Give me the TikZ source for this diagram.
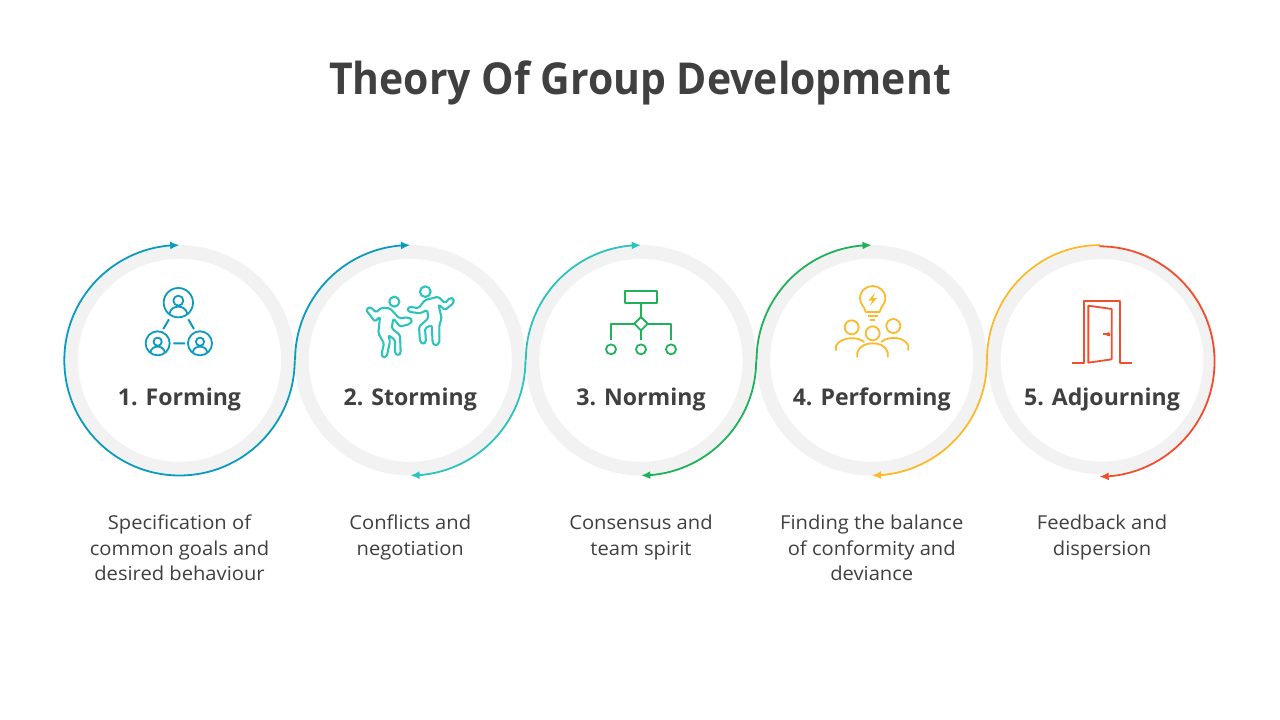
\documentclass[tikz,border=0pt]{standalone}
\usepackage{fontspec}
\setmainfont{Open Sans}
\newfontfamily\titlefont[FakeStretch=0.93,BoldFont={Open Sans Bold}]{Open Sans}
\newfontfamily\descfont[FakeStretch=1.05]{Open Sans}
\usetikzlibrary{arrows.meta,bending}
\definecolor{cblue}{HTML}{0A9BBF}
\definecolor{cteal}{HTML}{2CC3BD}
\definecolor{cgreen}{HTML}{1FB25A}
\definecolor{cyellow}{HTML}{FBBA2C}
\definecolor{cred}{HTML}{F04E2D}
\definecolor{cring}{HTML}{F2F2F2}
\definecolor{ctext}{HTML}{404040}
\tikzset{
  ring/.style={circle,draw=cring,line width=10.2pt,minimum size=162.6pt,inner sep=0pt},
  lastring/.style={circle,draw=cring,line width=9.5pt,minimum size=161.5pt,inner sep=0pt},
  flow/.style={line width=1.35pt},
  tip/.style={-{Latex[length=7pt,width=6pt,flex]}},
  titletext/.style={font=\titlefont\fontsize{33}{38}\selectfont\bfseries,text=ctext,anchor=base},
  headtext/.style={font=\fontsize{17.3}{20}\selectfont\bfseries,text=ctext,anchor=base},
  desctext/.style={font=\descfont\fontsize{14.4}{19.1}\selectfont,text=ctext,align=center,anchor=north},
  icon/.style={line width=1.35pt,line cap=butt,line join=round},
  zoomgrid/.style={x=.25pt,y=-.25pt}
}
\newcommand{\personicon}[4]{%
  \begin{scope}[shift={(#1,#2)},scale=#3]
    \draw[icon,#4] (0,0) circle[radius=44];
    \draw[icon,#4] (0,-6) circle[radius=15];
    \draw[icon,#4] (-27,34) .. controls (-24,17) and (-10,12) .. (0,12) .. controls (10,12) and (24,17) .. (27,34);
  \end{scope}}
\begin{document}
\begin{tikzpicture}[x=.75pt,y=-.75pt]
\useasboundingbox (0,0) rectangle (1280,720);
\fill[white] (0,0) rectangle (1280,720);
\node[titletext] (title) at (640,94.5) {Theory Of Group Development};
\node[ring] (c1) at (179.5,360.3) {};
\node[ring] (c2) at (410.25,360.3) {};
\node[ring] (c3) at (641,360.3) {};
\node[ring] (c4) at (871.75,360.3) {};
\node[lastring] (c5) at (1102,360.3) {};
\coordinate (c5top) at ([xshift=-2pt]c5.north);
% flow arcs
\draw[flow,cblue,tip] (c1.east) arc[start angle=0,end angle=270,radius=115.2];
\draw[flow,cblue,tip] (c2.west) arc[start angle=180,end angle=270,radius=115.2];
\draw[flow,cteal,tip] (c2.east) arc[start angle=0,end angle=90,radius=115.2];
\draw[flow,cteal,tip] (c3.west) arc[start angle=180,end angle=270,radius=115.2];
\draw[flow,cgreen,tip] (c3.east) arc[start angle=0,end angle=90,radius=115.2];
\draw[flow,cgreen,tip] (c4.west) arc[start angle=180,end angle=270,radius=115.2];
\draw[flow,cyellow,tip] (c4.east) arc[start angle=0,end angle=90,radius=115.2];
\draw[flow,cyellow] (c4.east) arc[start angle=180,end angle=270,x radius=112.8,y radius=115.2];
\draw[flow,cred,tip] (c5top) arc[start angle=-90,end angle=90,radius=115.2];
% headings
\node[headtext] (h1) at (c1|-0,405) {1. Forming};
\node[headtext] (h2) at (c2|-0,405) {2. Storming};
\node[headtext] (h3) at (c3|-0,405) {3. Norming};
\node[headtext] (h4) at (c4|-0,405) {4. Performing};
\node[headtext] (h5) at (c5|-0,405) {5. Adjourning};
% descriptions
\node[desctext] (d1) at (c1|-0,510.5) {Specification of\\common goals and\\desired behaviour};
\node[desctext] (d2) at (c2|-0,510.5) {Conflicts and\\negotiation};
\node[desctext] (d3) at (c3|-0,510.5) {Consensus and\\team spirit};
\node[desctext] (d4) at (c4|-0,510.5) {Finding the balance\\of conformity and\\deviance};
\node[desctext] (d5) at (c5|-0,510.5) {Feedback and\\dispersion};
% icon 1
\begin{scope}[shift={(130,280)},zoomgrid]
  \personicon{145}{68}{1}{cblue}
  \personicon{83}{190}{.82}{cblue}
  \personicon{210}{190}{.82}{cblue}
  \draw[icon,cblue,line width=1.5pt] (117,118)--(100,147) (175,118)--(192,147) (130,190)--(165,190);
\end{scope}
% icon 2
\begin{scope}[shift={(350,275)},zoomgrid,every path/.append style={line width=1.55pt}]
  \draw[icon,cteal,line width=1.55pt] (133,80) circle[radius=15];
  \draw[icon,cteal,line width=1.55pt,rounded corners=1.2pt] (48,105)--(60,95)--(78,112)--(95,98)--(120,100)--(148,130)--(175,127)--(187,135)--(180,147)--(150,155)--(130,130)--(125,160)--(150,180)--(152,235)--(145,242)--(135,235)--(135,195)--(115,180)--(120,200)--(110,245)--(98,248)--(95,235)--(102,205)--(85,175)--(90,125)--(75,140)--cycle;
  \draw[icon,cteal,line width=1.55pt] (226,50) circle[radius=16];
  \draw[icon,cteal,line width=1.55pt,rounded corners=1.2pt] (172,100)--(180,95)--(205,100)--(225,75)--(265,65)--(285,85)--(300,68)--(312,72)--(310,85)--(285,105)--(265,88)--(275,130)--(268,150)--(268,205)--(255,212)--(248,205)--(245,150)--(225,160)--(228,200)--(220,208)--(210,200)--(207,155)--(235,130)--(232,105)--(210,115)--(175,110)--cycle;
\end{scope}
% icon 3
\begin{scope}[shift={(590,280)},zoomgrid]
  \draw[icon,cgreen] (104,32) rectangle (202,70);
  \draw[icon,cgreen] (153,70)--(153,111);
  \draw[icon,cgreen] (153,111)--(173,131)--(153,151)--(133,131)--cycle;
  \draw[icon,cgreen] (133,131)--(63,131)--(63,180) (173,131)--(243,131)--(243,180) (153,151)--(153,180);
  \draw[icon,cgreen] (63,208) circle[radius=15] (153,208) circle[radius=15] (243,208) circle[radius=15];
\end{scope}
% icon 4
\begin{scope}[shift={(825,280)},zoomgrid]
  \draw[icon,cyellow] (122,96) .. controls (118,78) and (105,72) .. (105,55) .. controls (105,32) and (124,18) .. (143,18) .. controls (162,18) and (181,32) .. (181,55) .. controls (181,72) and (168,78) .. (164,96) -- cycle;
  \draw[icon,cyellow] (128,108)--(158,108) (135,120)--(150,120);
  \fill[cyellow] (150,38)--(130,62)--(142,62)--(135,78)--(156,54)--(144,54)--cycle;
  \draw[icon,cyellow] (80,142) circle[radius=21] (205,138) circle[radius=21] (143,160) circle[radius=21];
  \draw[icon,cyellow] (33,212)--(33,197) .. controls (45,175) and (90,165) .. (118,186);
  \draw[icon,cyellow] (168,186) .. controls (195,165) and (240,172) .. (250,197) -- (250,212);
  \draw[icon,cyellow] (97,232)--(97,218) .. controls (105,195) and (125,190) .. (143,190) .. controls (161,190) and (181,195) .. (188,218) -- (188,232);
\end{scope}
% icon 5
\begin{scope}[shift={(1060,290)},zoomgrid]
  \draw[icon,cred] (37,218)--(72,218)--(72,32)--(181,32)--(181,218)--(215,218);
  \draw[icon,cred] (85,47)--(155,57)--(155,208)--(85,218)--cycle;
  \draw[icon,cred] (130,133)--(145,133);
  \fill[cred] (145,133) circle[radius=6];
\end{scope}
\end{tikzpicture}
\end{document}
